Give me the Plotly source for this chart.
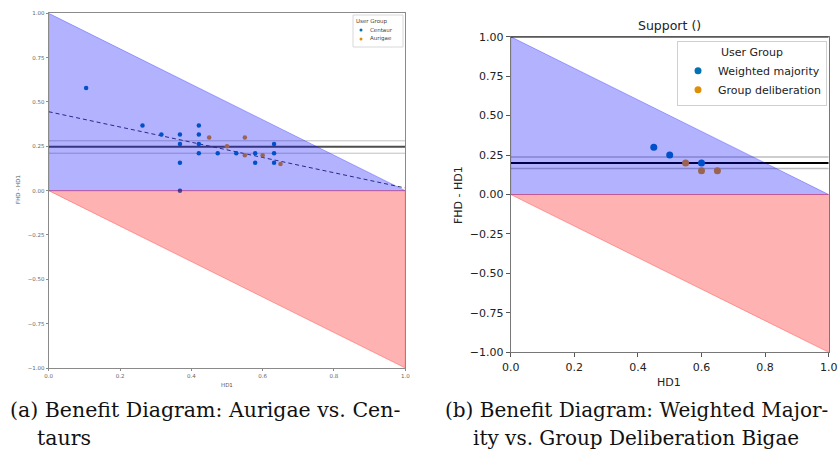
import plotly.graph_objects as go

# ---- (a) Aurigae vs. Centaurs ----
centaur_hd1 = [0.105, 0.263, 0.316, 0.368, 0.368, 0.368, 0.368, 0.421, 0.421, 0.421, 0.421,
               0.474, 0.526, 0.579, 0.579, 0.632, 0.632, 0.632]
centaur_gain = [0.579, 0.368, 0.316, 0.316, 0.263, 0.158, 0.0, 0.368, 0.316, 0.263, 0.211,
                0.211, 0.211, 0.211, 0.158, 0.263, 0.211, 0.158]
aurigae_hd1 = [0.45, 0.50, 0.55, 0.55, 0.60, 0.65]
aurigae_gain = [0.30, 0.25, 0.30, 0.20, 0.20, 0.15]
a_mean, a_ci_low, a_ci_high = 0.247, 0.211, 0.281
a_fit_intercept, a_fit_slope = 0.445, -0.43

# ---- (b) Weighted majority vs. Group deliberation ----
wm_hd1 = [0.45, 0.50, 0.60]
wm_gain = [0.30, 0.25, 0.20]
gd_hd1 = [0.55, 0.60, 0.65]
gd_gain = [0.20, 0.15, 0.15]
b_mean, b_ci_low, b_ci_high = 0.20, 0.165, 0.238

y_ticks = [-1.0, -0.75, -0.5, -0.25, 0.0, 0.25, 0.5, 0.75, 1.0]
y_tick_text = ["\u22121.00", "\u22120.75", "\u22120.50", "\u22120.25", "0.00", "0.25", "0.50", "0.75", "1.00"]
x_ticks = [0.0, 0.2, 0.4, 0.6, 0.8, 1.0]
x_tick_text = ["0.0", "0.2", "0.4", "0.6", "0.8", "1.0"]

BLUE = "#0173b2"
ORANGE = "#de8f05"
FILL_BLUE = "rgba(0,0,255,0.3)"
FILL_RED = "rgba(255,0,0,0.3)"

W, H = 838, 470
def px_x(p):
    return p / W
def px_y(p):
    return 1 - p / H

fig = go.Figure()

def add_panel(xa, ya, mean, lo, hi, mean_color, mean_w, ci_color, ci_w):
    for yv, c, w in [(lo, ci_color, ci_w), (hi, ci_color, ci_w), (mean, mean_color, mean_w)]:
        fig.add_trace(go.Scatter(x=[0, 1], y=[yv, yv], mode="lines",
                                 line=dict(color=c, width=w), showlegend=False,
                                 hoverinfo="skip", xaxis=xa, yaxis=ya))

def add_regions(xa, ya):
    fig.add_trace(go.Scatter(x=[0, 0, 1, 0], y=[0, 1, 0, 0], mode="lines", fill="toself",
                             fillcolor=FILL_BLUE, line=dict(color=FILL_BLUE, width=1),
                             showlegend=False, hoverinfo="skip", xaxis=xa, yaxis=ya))
    fig.add_trace(go.Scatter(x=[0, 1, 1, 0], y=[0, 0, -1, 0], mode="lines", fill="toself",
                             fillcolor=FILL_RED, line=dict(color=FILL_RED, width=1),
                             showlegend=False, hoverinfo="skip", xaxis=xa, yaxis=ya))

# panel (a)
add_panel("x", "y", a_mean, a_ci_low, a_ci_high, "#4d4d4d", 2, "rgba(150,150,150,0.6)", 1)
fig.add_trace(go.Scatter(x=[0, 1], y=[a_fit_intercept, a_fit_intercept + a_fit_slope],
                         mode="lines", line=dict(color="#3a3a5a", width=1, dash="4px,3px"),
                         showlegend=False, hoverinfo="skip", xaxis="x", yaxis="y"))
fig.add_trace(go.Scatter(x=centaur_hd1, y=centaur_gain, mode="markers", name="Centaur",
                         marker=dict(color=BLUE, size=4.5), showlegend=False,
                         xaxis="x", yaxis="y"))
fig.add_trace(go.Scatter(x=aurigae_hd1, y=aurigae_gain, mode="markers", name="Aurigae",
                         marker=dict(color=ORANGE, size=4.5), showlegend=False,
                         xaxis="x", yaxis="y"))
add_regions("x", "y")

# panel (b)
add_panel("x2", "y2", b_mean, b_ci_low, b_ci_high, "#000000", 2, "rgba(160,160,160,0.7)", 1.5)
fig.add_trace(go.Scatter(x=wm_hd1, y=wm_gain, mode="markers", name="Weighted majority",
                         marker=dict(color=BLUE, size=7), legend="legend",
                         xaxis="x2", yaxis="y2"))
fig.add_trace(go.Scatter(x=gd_hd1, y=gd_gain, mode="markers", name="Group deliberation",
                         marker=dict(color=ORANGE, size=7), legend="legend",
                         xaxis="x2", yaxis="y2"))
add_regions("x2", "y2")

axis_common = dict(showgrid=False, zeroline=False, showline=True, mirror=True,
                   ticks="outside", fixedrange=True, automargin=False)

fig.update_layout(
    width=W, height=H, margin=dict(l=0, r=0, t=0, b=0, autoexpand=False),
    paper_bgcolor="white", plot_bgcolor="white",
    font=dict(family="DejaVu Sans", color="#333"),
    xaxis=dict(axis_common, domain=[px_x(48.7), px_x(405.3)], range=[0, 1], anchor="y",
               tickvals=x_ticks, ticktext=x_tick_text, linecolor="#8a8a8a", linewidth=1,
               tickcolor="#8a8a8a", ticklen=2, tickfont=dict(size=5.5, color="#666")),
    yaxis=dict(axis_common, domain=[px_y(368), px_y(13.3)], range=[-1, 1], anchor="x",
               tickvals=y_ticks, ticktext=y_tick_text, linecolor="#8a8a8a", linewidth=1,
               tickcolor="#8a8a8a", ticklen=2, tickfont=dict(size=5.5, color="#666")),
    xaxis2=dict(axis_common, domain=[px_x(510.7), px_x(828.7)], range=[0, 1], anchor="y2",
                tickvals=x_ticks, ticktext=x_tick_text, linecolor="#777", linewidth=1.2,
                tickcolor="#555", ticklen=4, tickfont=dict(size=11, color="#222")),
    yaxis2=dict(axis_common, domain=[px_y(352.3), px_y(36.7)], range=[-1, 1], anchor="x2",
                tickvals=y_ticks, ticktext=y_tick_text, linecolor="#777", linewidth=1.2,
                tickcolor="#555", ticklen=4, tickfont=dict(size=11, color="#222")),
    legend=dict(title=dict(text="User Group", side="top center", font=dict(size=11, color="#222")),
                x=px_x(827), y=px_y(41), xanchor="right", yanchor="top",
                bgcolor="rgba(255,255,255,0.8)", bordercolor="#d0d0d0", borderwidth=1,
                font=dict(size=11, color="#222"), itemwidth=30, tracegroupgap=0),
)

# top spine of panel (b)
fig.add_shape(type="line", xref="x2", yref="y2", x0=0, x1=1, y0=1, y1=1,
              line=dict(color="black", width=1.5))

# legend box for panel (a)
fig.add_shape(type="rect", xref="paper", yref="paper",
              x0=px_x(353), x1=px_x(403), y0=px_y(47), y1=px_y(15),
              line=dict(color="#d8d8d8", width=1), fillcolor="rgba(255,255,255,0.85)")
for yy, col in [(30, BLUE), (39, ORANGE)]:
    fig.add_shape(type="circle", xref="paper", yref="paper",
                  x0=px_x(359.5), x1=px_x(362.5), y0=px_y(yy + 1.5), y1=px_y(yy - 1.5),
                  line=dict(width=0), fillcolor=col)

CAP_A = dict(family="DejaVu Serif", size=20.5, color="#111")
CAP_B = dict(family="DejaVu Serif", size=20, color="#111")
annotations = [
    dict(text="User Group", x=px_x(372), y=px_y(21), font=dict(size=5.5, color="#444")),
    dict(text="Centaur", x=px_x(368), y=px_y(30), xanchor="left", font=dict(size=5.5, color="#444")),
    dict(text="Aurigae", x=px_x(368), y=px_y(39), xanchor="left", font=dict(size=5.5, color="#444")),
    dict(text="HD1", x=px_x(227), y=px_y(385), font=dict(size=5.5, color="#555")),
    dict(text="FHD - HD1", x=px_x(18), y=px_y(190), textangle=-90, font=dict(size=5.5, color="#555")),
    dict(text="Support ()", x=px_x(669), y=px_y(25), font=dict(size=12.5, color="#222")),
    dict(text="HD1", x=px_x(669), y=px_y(382), font=dict(size=11, color="#222")),
    dict(text="FHD - HD1", x=px_x(458), y=px_y(195), textangle=-90, font=dict(size=11, color="#222")),
    dict(text="(a) Benefit Diagram: Aurigae vs. Cen-", x=px_x(8), y=px_y(410), xanchor="left", font=CAP_A),
    dict(text="taurs", x=px_x(35), y=px_y(438), xanchor="left", font=CAP_A),
    dict(text="(b) Benefit Diagram: Weighted Major-", x=px_x(443), y=px_y(410), xanchor="left", font=CAP_B),
    dict(text="ity vs. Group Deliberation Bigae", x=px_x(471), y=px_y(438), xanchor="left", font=CAP_B),
]
for a in annotations:
    a.setdefault("xanchor", "center")
    a.update(xref="paper", yref="paper", yanchor="middle", showarrow=False)
fig.update_layout(annotations=annotations)

fig.write_html("out.html")
